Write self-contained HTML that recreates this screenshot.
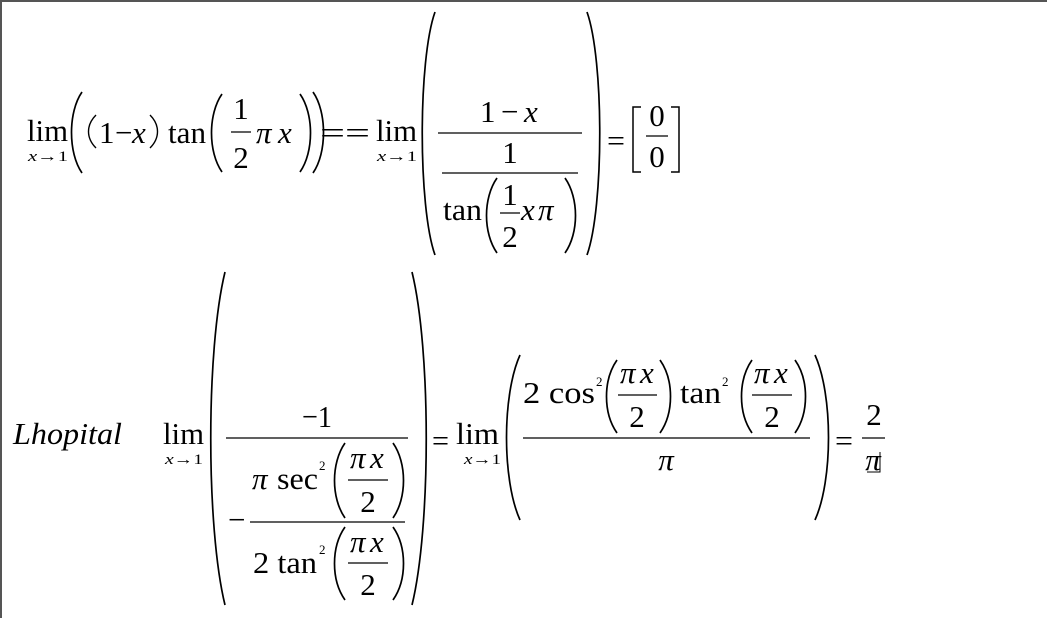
<!DOCTYPE html>
<html><head><meta charset="utf-8"><style>
html,body{margin:0;padding:0;background:#fff;}
svg{display:block;font-family:"Liberation Serif","DejaVu Serif","Times New Roman",serif;}
svg text{font-family:"Liberation Serif","DejaVu Serif","Times New Roman",serif !important;fill:#000;}
.i{font-style:italic;}
path.p{fill:none;stroke:#000;stroke-width:1.7;}
line{stroke:#000;stroke-width:1.3;}
</style></head><body>
<svg width="1047" height="618" viewBox="0 0 1047 618" xmlns="http://www.w3.org/2000/svg">
<rect x="0" y="0" width="1047" height="618" fill="#fff"/>
<line x1="0" y1="1" x2="1047" y2="1" style="stroke:#555;stroke-width:2"/>
<line x1="1" y1="0" x2="1" y2="618" style="stroke:#555;stroke-width:2"/>

<!-- Row 1 -->
<text x="27" y="141" font-size="31" textLength="41" lengthAdjust="spacingAndGlyphs">lim</text>
<text x="28" y="161" font-size="15" textLength="40" lengthAdjust="spacingAndGlyphs"><tspan class="i">x</tspan>→1</text>
<path class="p" d="M82,92 C68,112 68,153 82,173"/>
<path class="p" d="M96,115 C86,125 86,138 96,148" style="stroke-width:1.4"/>
<text x="99" y="143" font-size="31">1</text>
<text x="115" y="143" font-size="31">−</text>
<text x="132" y="143" font-size="31" class="i">x</text>
<path class="p" d="M150,115 C160,125 160,138 150,148" style="stroke-width:1.4"/>
<text x="168" y="143" font-size="31" textLength="38" lengthAdjust="spacingAndGlyphs">tan</text>
<path class="p" d="M222,94 C208,114 208,152 222,172"/>
<text x="241" y="119" font-size="31" text-anchor="middle">1</text>
<line x1="231" y1="132" x2="251" y2="132"/>
<text x="241" y="168" font-size="31" text-anchor="middle">2</text>
<text x="256" y="143" font-size="31" class="i">π</text>
<text x="278" y="143" font-size="31" class="i">x</text>
<path class="p" d="M300,94 C314,114 314,152 300,172"/>
<path class="p" d="M313,92 C327,112 327,153 313,173"/>
<text x="320" y="143" font-size="31" textLength="50" lengthAdjust="spacingAndGlyphs">==</text>
<text x="376" y="141" font-size="31" textLength="41" lengthAdjust="spacingAndGlyphs">lim</text>
<text x="377" y="161" font-size="15" textLength="40" lengthAdjust="spacingAndGlyphs"><tspan class="i">x</tspan>→1</text>
<path class="p" d="M435,12 C418,60 418,207 435,255"/>
<text x="480" y="122" font-size="31">1</text>
<text x="501" y="122" font-size="31">−</text>
<text x="524" y="122" font-size="31" class="i">x</text>
<line x1="438" y1="133" x2="582" y2="133"/>
<text x="510" y="163" font-size="31" text-anchor="middle">1</text>
<line x1="442" y1="173" x2="578" y2="173"/>
<text x="443" y="220" font-size="31" textLength="39" lengthAdjust="spacingAndGlyphs">tan</text>
<path class="p" d="M497,178 C483,198 483,233 497,253"/>
<text x="510" y="205" font-size="31" text-anchor="middle">1</text>
<line x1="500" y1="213" x2="520" y2="213"/>
<text x="510" y="247" font-size="31" text-anchor="middle">2</text>
<text x="521" y="220" font-size="31" class="i">x</text>
<text x="538" y="220" font-size="31" class="i">π</text>
<path class="p" d="M565,178 C579,198 579,233 565,253"/>
<path class="p" d="M587,12 C604,60 604,207 587,255"/>
<text x="607" y="151" font-size="31" textLength="18" lengthAdjust="spacingAndGlyphs">=</text>
<path class="p" d="M641,107 L633,107 L633,172 L641,172" style="stroke-width:1.5"/>
<text x="657" y="126" font-size="31" text-anchor="middle">0</text>
<line x1="646" y1="136" x2="668" y2="136"/>
<text x="657" y="167" font-size="31" text-anchor="middle">0</text>
<path class="p" d="M671,107 L679,107 L679,172 L671,172" style="stroke-width:1.5"/>

<!-- Row 2 -->
<text x="13" y="444" font-size="31" class="i" textLength="109" lengthAdjust="spacingAndGlyphs">Lhopital</text>
<text x="163" y="444" font-size="31" textLength="41" lengthAdjust="spacingAndGlyphs">lim</text>
<text x="165" y="464" font-size="15" textLength="38" lengthAdjust="spacingAndGlyphs"><tspan class="i">x</tspan>→1</text>
<path class="p" d="M225,272 C206,350 206,527 225,605"/>
<text x="302" y="427" font-size="31" textLength="30" lengthAdjust="spacingAndGlyphs">−1</text>
<line x1="226" y1="438" x2="408" y2="438"/>
<text x="252" y="489" font-size="31" class="i">π</text>
<text x="277" y="489" font-size="31" textLength="41" lengthAdjust="spacingAndGlyphs">sec</text>
<text x="319" y="470" font-size="13">2</text>
<path class="p" d="M345,443 C331,463 331,498 345,518"/>
<text x="350" y="468" font-size="31" class="i">π</text>
<text x="370" y="468" font-size="31" class="i">x</text>
<line x1="348" y1="480" x2="388" y2="480"/>
<text x="368" y="512" font-size="31" text-anchor="middle">2</text>
<path class="p" d="M393,443 C407,463 407,498 393,518"/>
<text x="228" y="530" font-size="31">−</text>
<line x1="250" y1="522" x2="405" y2="522"/>
<text x="253" y="573" font-size="31" textLength="64" lengthAdjust="spacingAndGlyphs">2 tan</text>
<text x="319" y="554" font-size="13">2</text>
<path class="p" d="M345,527 C331,547 331,580 345,600"/>
<text x="350" y="552" font-size="31" class="i">π</text>
<text x="370" y="552" font-size="31" class="i">x</text>
<line x1="348" y1="563" x2="388" y2="563"/>
<text x="368" y="595" font-size="31" text-anchor="middle">2</text>
<path class="p" d="M393,527 C407,547 407,580 393,600"/>
<path class="p" d="M412,272 C431,350 431,527 412,605"/>
<text x="432" y="451" font-size="31" textLength="17" lengthAdjust="spacingAndGlyphs">=</text>
<text x="456" y="444" font-size="31" textLength="43" lengthAdjust="spacingAndGlyphs">lim</text>
<text x="464" y="464" font-size="15" textLength="37" lengthAdjust="spacingAndGlyphs"><tspan class="i">x</tspan>→1</text>
<path class="p" d="M520,355 C502,395 502,480 520,520"/>
<text x="523" y="403" font-size="31" textLength="72" lengthAdjust="spacingAndGlyphs">2 cos</text>
<text x="596" y="386" font-size="13">2</text>
<path class="p" d="M617,360 C603,380 603,413 617,433"/>
<text x="620" y="383" font-size="31" class="i">π</text>
<text x="640" y="383" font-size="31" class="i">x</text>
<line x1="618" y1="395" x2="657" y2="395"/>
<text x="637" y="427" font-size="31" text-anchor="middle">2</text>
<path class="p" d="M660,360 C674,380 674,413 660,433"/>
<text x="680" y="403" font-size="31" textLength="41" lengthAdjust="spacingAndGlyphs">tan</text>
<text x="722" y="386" font-size="13">2</text>
<path class="p" d="M752,360 C738,380 738,413 752,433"/>
<text x="754" y="383" font-size="31" class="i">π</text>
<text x="774" y="383" font-size="31" class="i">x</text>
<line x1="752" y1="395" x2="792" y2="395"/>
<text x="772" y="427" font-size="31" text-anchor="middle">2</text>
<path class="p" d="M795,360 C809,380 809,413 795,433"/>
<line x1="523" y1="438" x2="810" y2="438"/>
<text x="666" y="470" font-size="31" class="i" text-anchor="middle">π</text>
<path class="p" d="M815,355 C833,395 833,480 815,520"/>
<text x="835" y="451" font-size="31" textLength="18" lengthAdjust="spacingAndGlyphs">=</text>
<text x="874" y="425" font-size="31" text-anchor="middle">2</text>
<line x1="862" y1="438" x2="885" y2="438"/>
<text x="873" y="470" font-size="31" class="i" text-anchor="middle">π</text>
<path d="M880,452 L880,472 L867,472" style="fill:none;stroke:#000;stroke-width:1"/>
</svg>
</body></html>
